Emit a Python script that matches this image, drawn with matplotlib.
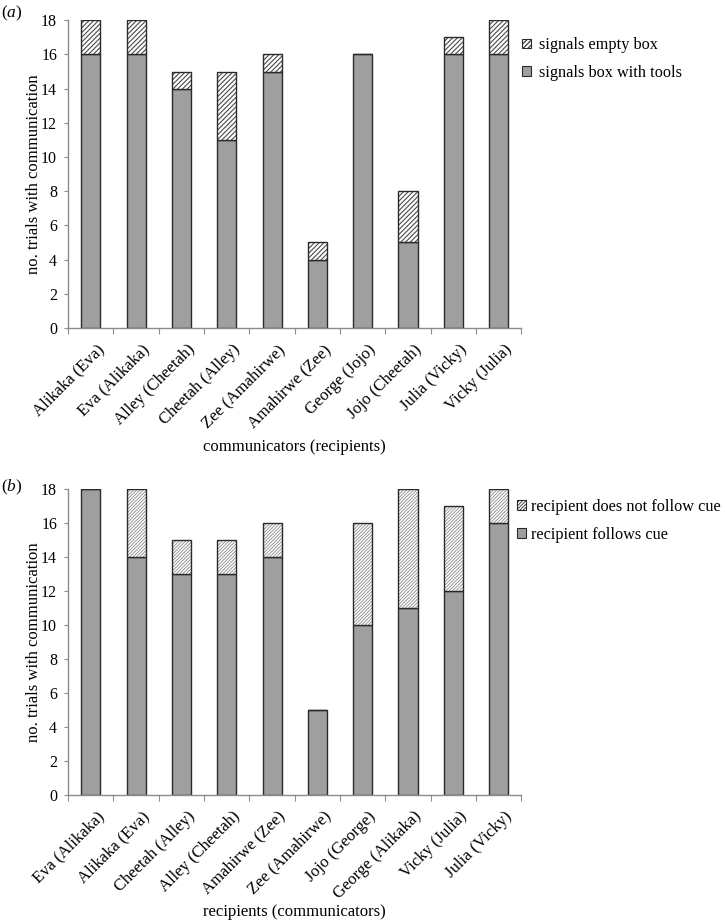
import numpy as np
import matplotlib.pyplot as plt

plt.rcParams['font.family'] = 'Liberation Serif'
plt.rcParams['mathtext.fontset'] = 'custom'
plt.rcParams['mathtext.it'] = 'Liberation Serif:italic'
plt.rcParams['mathtext.rm'] = 'Liberation Serif'

# panel (a): communicators (recipients)
labels_a = ['Alikaka (Eva)', 'Eva (Alikaka)', 'Alley (Cheetah)', 'Cheetah (Alley)',
            'Zee (Amahirwe)', 'Amahirwe (Zee)', 'George (Jojo)', 'Jojo (Cheetah)',
            'Julia (Vicky)', 'Vicky (Julia)']
tools_a = [16, 16, 14, 11, 15, 4, 16, 5, 16, 16]
empty_a = [2, 2, 1, 4, 1, 1, 0, 3, 1, 2]

# panel (b): recipients (communicators)
labels_b = ['Eva (Alikaka)', 'Alikaka (Eva)', 'Cheetah (Alley)', 'Alley (Cheetah)',
            'Amahirwe (Zee)', 'Zee (Amahirwe)', 'Jojo (George)', 'George (Alikaka)',
            'Vicky (Julia)', 'Julia (Vicky)']
follow_b = [18, 14, 13, 13, 14, 5, 10, 11, 12, 16]
notfollow_b = [0, 4, 2, 2, 2, 0, 6, 7, 5, 2]

grey = '#9f9f9f'
edge = '#2a2a2a'
w = 0.42

fig = plt.figure(figsize=(7.25, 9.21), dpi=100)
ax1 = fig.add_axes([0.094, 0.644, 0.625, 0.334])
ax2 = fig.add_axes([0.094, 0.137, 0.625, 0.332])


def panel(ax, labels, low, high, lab_low, lab_high, xlab, hatch, hcol, hlw,
          letter, leg_xy, leg_pad, lab_y, let_dy):
    x = np.arange(len(labels))
    low = np.array(low)
    high = np.array(high)
    ax.bar(x, low, w, color=grey, edgecolor=edge, linewidth=1.0, zorder=2)
    plt.rcParams['hatch.linewidth'] = hlw
    ax.bar(x, high, w, bottom=low, color='white', edgecolor=hcol,
           hatch=hatch, linewidth=0, zorder=2)
    ax.bar(x, high, w, bottom=low, fill=False, edgecolor=edge,
           linewidth=1.0, zorder=3)
    ax.set_xlim(-0.5, len(labels) - 0.5)
    ax.set_ylim(0, 18)
    ax.set_yticks(range(0, 19, 2))
    ax.set_xticks(np.arange(-0.5, len(labels), 1.0))
    ax.set_xticklabels([])
    for i, lab in enumerate(labels):
        ax.text(i + 0.12, -0.8, lab, rotation=45, ha='right', va='top',
                rotation_mode='anchor', fontsize=12)
    for s in ['top', 'right']:
        ax.spines[s].set_visible(False)
    for s in ['left', 'bottom']:
        ax.spines[s].set_color('#8c8c8c')
        ax.spines[s].set_linewidth(1.0)
    ax.tick_params(axis='x', length=4, color='#8c8c8c', direction='out')
    ax.tick_params(axis='y', length=3, color='#8c8c8c', labelsize=11.5, pad=5)
    ax.set_ylabel('no. trials with communication', fontsize=12)
    ax.yaxis.set_label_coords(-0.058, 0.5)
    ax.set_xlabel(xlab, fontsize=12)
    ax.xaxis.set_label_coords(0.5, lab_y)
    h1 = plt.Rectangle((0, 0), 1, 1, facecolor='white', edgecolor=edge, hatch=hatch, linewidth=0.8)
    h2 = plt.Rectangle((0, 0), 1, 1, facecolor=grey, edgecolor=edge, linewidth=0.8)
    ax.legend([h1, h2], [lab_high, lab_low], loc='upper left',
              bbox_to_anchor=leg_xy, frameon=False, fontsize=11.7,
              handlelength=0.55, handleheight=0.55, handletextpad=leg_pad,
              labelspacing=0.7, borderaxespad=0, borderpad=0)
    pos = ax.get_position()
    fig.text(0.001, pos.y1 + let_dy, '($\\mathit{%s}$)' % letter, fontsize=12.5, va='center')


panel(ax1, labels_a, tools_a, empty_a, 'signals box with tools', 'signals empty box',
      'communicators (recipients)', '///////', '#4a4a4a', 0.8, 'a',
      (1.002, 0.945), 0.5, -0.362, 0.007)
panel(ax2, labels_b, follow_b, notfollow_b, 'recipient follows cue',
      'recipient does not follow cue', 'recipients (communicators)', '//////////',
      '#8a8a8a', 0.6, 'b', (0.991, 0.967), 0.3, -0.357, 0.002)

fig.savefig('out.png', dpi=100)
